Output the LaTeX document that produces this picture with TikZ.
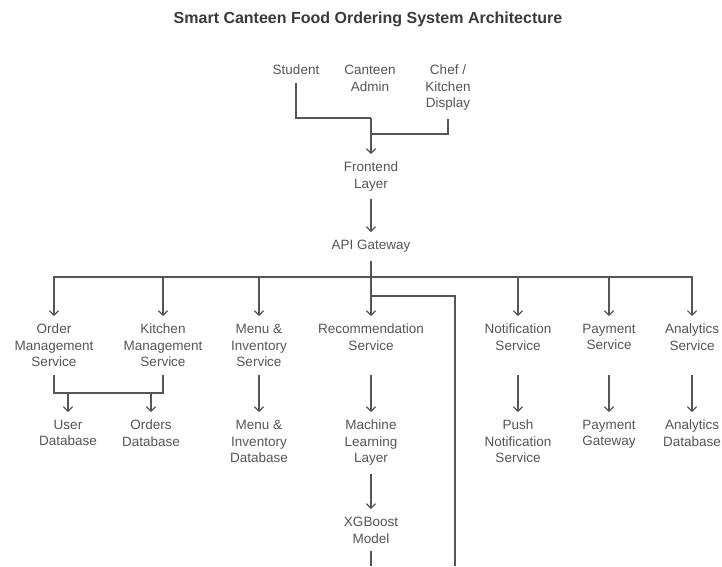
\documentclass[tikz,border=0pt]{standalone}
\usepackage{fontspec}
\setmainfont{Liberation Sans}
\usetikzlibrary{arrows.meta}
\definecolor{ink}{HTML}{555555}
\definecolor{headink}{HTML}{3A3A3A}

\begin{document}
\begin{tikzpicture}[x=1pt,y=-1pt]
\tikzstyle{every node}+=[inner xsep=1pt,inner ysep=8pt]
\tikzstyle{lbl}=[anchor=north,align=center,text=ink,font=\fontsize{13.5}{16.5}\selectfont]
\tikzstyle{wire}=[draw=ink,line width=1.2pt]
\tikzstyle{arr}=[wire,-{Straight Barb[length=4.5pt,width=9pt,line width=1.2pt]}]
\useasboundingbox (0,0) rectangle (722,566);
\node (title) at (368,19) [text=headink,font=\fontsize{16}{19}\selectfont\bfseries] {Smart Canteen Food Ordering System Architecture};
% users
\node[lbl] (stu) at (296,57) {Student};
\node[lbl] (adm) at (370,57) {Canteen\\Admin};
\node[lbl] (chef) at (448,57) {Chef /\\Kitchen\\Display};
\node[lbl] (fe) at (371,154) {Frontend\\Layer};
\node[lbl] (api) at (371,232) {API Gateway};
% services
\node[lbl] (ord) at (54,316) {Order\\Management\\Service};
\node[lbl] (kit) at (163,316) {Kitchen\\Management\\Service};
\node[lbl] (menu) at (259,316) {Menu \&\\Inventory\\Service};
\node[lbl] (rec) at (371,316) {Recommendation\\Service};
\node[lbl] (noti) at (518,316) {Notification\\Service};
\node[lbl] (pay) at (609,316) {Payment\\Service};
\node[lbl] (ana) at (692,316) {Analytics\\Service};
% second row
\node[lbl] (usr) at (68,412) {User\\Database};
\node[lbl] (odb) at (151,412) {Orders\\Database};
\node[lbl] (mdb) at (259,412) {Menu \&\\Inventory\\Database};
\node[lbl] (ml) at (371,412) {Machine\\Learning\\Layer};
\node[lbl] (push) at (518,412) {Push\\Notification\\Service};
\node[lbl] (pgw) at (609,412) {Payment\\Gateway};
\node[lbl] (adb) at (692,412) {Analytics\\Database};
\node[lbl] (xgb) at (371,509) {XGBoost\\Model};
% joints
\coordinate (merge) at (371,118);
\coordinate (join) at (371,134);
\coordinate (bus) at (371,277);
\coordinate (tap) at (371,296);
\coordinate (dbbar) at (110,393);
\coordinate (offR) at (455,566);
\coordinate (offX) at (371,566);
% connectors
\draw[wire] (stu.south) |- (merge);
\draw[wire] (chef.south) |- (join);
\draw[arr] (merge) -- (fe.north);
\draw[arr] (fe.south) -- (api.north);
\draw[wire] (api.south) -- (bus);
\draw[arr] (bus) -- (rec.north);
\foreach \n in {ord,kit,menu,noti,pay,ana}
  \draw[arr] (bus) -| (\n.north);
\draw[wire] (tap) -| (offR);
\draw[wire] (ord.south) |- (dbbar) -| (kit.south);
\draw[arr] (usr.north |- dbbar) -- (usr.north);
\draw[arr] (odb.north |- dbbar) -- (odb.north);
\foreach \a/\b in {menu/mdb,rec/ml,noti/push,pay/pgw,ana/adb}
  \draw[arr] (\a.north |- ord.south) -- (\b.north);
\draw[arr] (ml.south) -- (xgb.north);
\draw[wire] (xgb.south) -- (offX);
\end{tikzpicture}
\end{document}
